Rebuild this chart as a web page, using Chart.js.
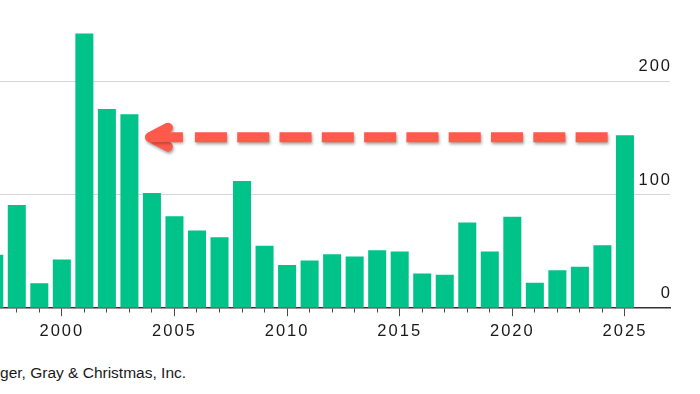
<!DOCTYPE html>
<html>
<head>
<meta charset="utf-8">
<script src="https://cdn.jsdelivr.net/npm/chart.js@4.4.1/dist/chart.umd.min.js"></script>
<style>
    html, body { margin: 0; padding: 0; background: #fff; overflow: hidden; }
    body { width: 700px; height: 394px; position: relative; }
    .chart-box { position: absolute; left: -17px; top: 0; width: 717px; height: 346px; }
    .source { position: absolute; top: 364px; font: 15.5px 'Liberation Sans', Arial, sans-serif; color: #1a1a1a; white-space: nowrap; }
</style>
</head>
<body>
<div class="chart-box"><canvas id="cuts"></canvas></div>
<div class="source" id="source">Source: Challenger, Gray &amp; Christmas, Inc.</div>
<script>
const years = [1997, 1998, 1999, 2000, 2001, 2002, 2003, 2004, 2005, 2006,
    2007, 2008, 2009, 2010, 2011, 2012, 2013, 2014, 2015, 2016,
    2017, 2018, 2019, 2020, 2021, 2022, 2023, 2024, 2025];
const cuts = [47, 91, 22, 43, 242, 175.5, 171, 101.5, 81, 68.5,
    62.5, 112, 55, 38, 42, 47.5, 45.5, 51, 50, 30.5,
    29.5, 75.5, 50, 80.5, 22.5, 33.5, 36.5, 55.5, 152.5];
const yTicks = [0, 100, 200];

// arrow: from the latest bar back to the comparable year
const arrowFrom = 2025;
const arrowTo = 2003;
const arrowLevel = 150.7;

const green = '#00c389';
const red = '#ff5a4c';
const textColor = '#1a1a1a';
const tickFont = { family: "'Liberation Sans', Arial, sans-serif", size: 16.5 };

// source line is cropped on the left like the chart
const source = document.getElementById('source');
const measure = document.createElement('canvas').getContext('2d');
measure.font = "15.5px 'Liberation Sans'";
source.style.left = -measure.measureText('Source: Challen').width + 'px';

const spacing = {
    id: 'spacing',
    beforeDraw(chart) {
        chart.ctx.letterSpacing = '2px';
    }
};

const arrow = {
    id: 'arrow',
    afterDatasetsDraw(chart) {
        const { ctx, scales: { x, y } } = chart;
        const half = chart.getDatasetMeta(0).data[0].width / 2;
        const yPos = y.getPixelForValue(arrowLevel);
        const tip = x.getPixelForValue(arrowTo) + half + 6.5;
        const end = x.getPixelForValue(arrowFrom) - half - 3.5;

        ctx.save();
        ctx.strokeStyle = red;
        ctx.lineWidth = 10;
        ctx.shadowColor = 'rgba(0, 0, 0, 0.35)';
        ctx.shadowBlur = 3;
        ctx.shadowOffsetX = 1;
        ctx.shadowOffsetY = 2;

        // head + short shaft
        ctx.lineCap = 'round';
        ctx.lineJoin = 'round';
        ctx.beginPath();
        ctx.moveTo(tip + 23, yPos - 9.5);
        ctx.lineTo(tip + 5, yPos);
        ctx.lineTo(tip + 23, yPos + 9.5);
        ctx.stroke();
        ctx.lineCap = 'butt';
        ctx.beginPath();
        ctx.moveTo(tip + 5, yPos);
        ctx.lineTo(tip + 38, yPos);
        ctx.stroke();

        // dashes
        ctx.setLineDash([32, 10.3]);
        ctx.beginPath();
        ctx.moveTo(tip + 50, yPos);
        ctx.lineTo(end, yPos);
        ctx.stroke();
        ctx.restore();
    }
};

const data = {
    datasets: [{
        data: years.map((yr, i) => ({ x: yr, y: cuts[i] })),
        backgroundColor: green,
        borderWidth: 0,
        barPercentage: 0.8,
        categoryPercentage: 1
    }]
};

const config = {
    type: 'bar',
    data,
    options: {
        responsive: true,
        maintainAspectRatio: false,
        animation: false,
        layout: { padding: { left: 0, right: 26, top: 24.5, bottom: 0 } },
        plugins: { legend: false, tooltip: { enabled: false } },
        scales: {
            x: {
                type: 'linear',
                min: 1996.5,
                max: 2027,
                offset: false,
                afterBuildTicks(scale) {
                    scale.ticks = years.map(v => ({ value: v }));
                },
                ticks: {
                    autoSkip: false,
                    maxRotation: 0,
                    padding: 5,
                    font: tickFont,
                    color: textColor,
                    callback: v => v % 5 === 0 ? String(v) : ''
                },
                grid: {
                    offset: false,
                    drawOnChartArea: false,
                    drawTicks: true,
                    tickLength: 8,
                    tickColor: '#4a4a4a',
                    tickWidth: 1,
                    tickBorderDash: ctx => ctx.tick && ctx.tick.value % 5 === 0 ? [] : [4, 10]
                },
                border: { display: true, color: '#333', width: 1.5 }
            },
            y: {
                position: 'right',
                min: 0,
                max: 250,
                afterBuildTicks(scale) {
                    scale.ticks = yTicks.map(v => ({ value: v }));
                },
                ticks: {
                    mirror: true,
                    padding: 2,
                    labelOffset: -14.5,
                    font: tickFont,
                    color: textColor
                },
                grid: {
                    drawTicks: false,
                    lineWidth: 1,
                    color: ctx => ctx.tick && ctx.tick.value === 0 ? 'rgba(0,0,0,0)' : '#d6d6d6'
                },
                border: { display: false }
            }
        }
    },
    plugins: [spacing, arrow]
};

const myChart = new Chart(document.getElementById('cuts'), config);
</script>
</body>
</html>
